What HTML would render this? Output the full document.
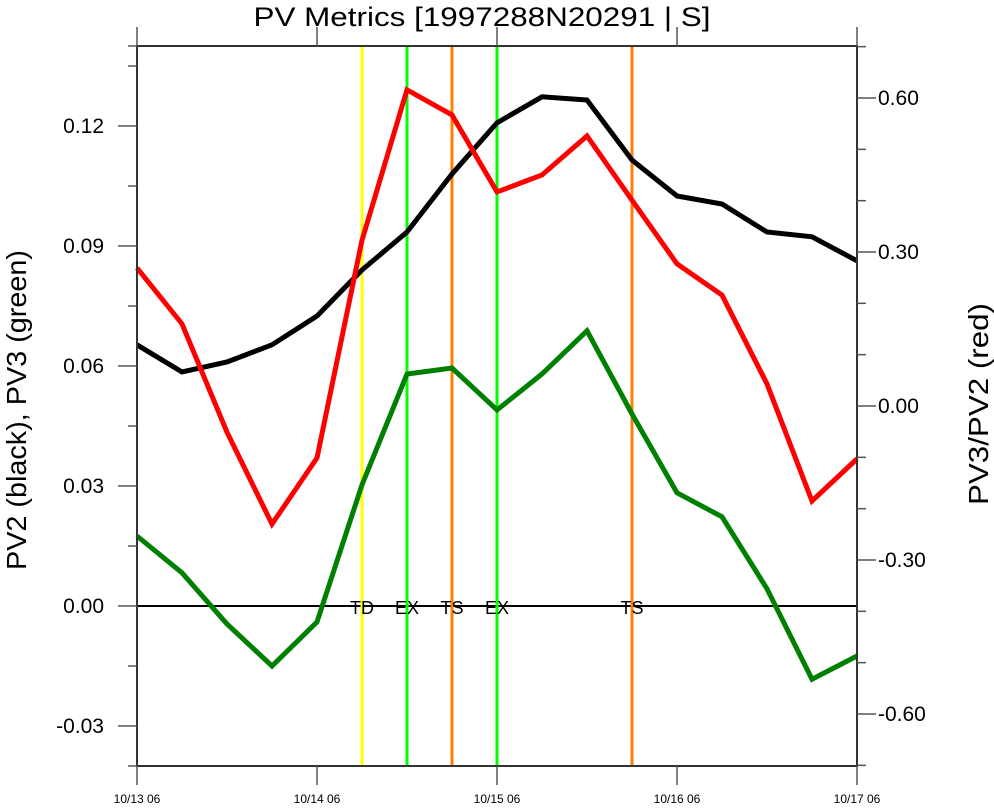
<!DOCTYPE html>
<html><head><meta charset="utf-8"><style>
body{margin:0;background:#fff}
svg text{font-family:"Liberation Sans",sans-serif}
</style></head><body>
<svg id="chart" width="994" height="805" xmlns="http://www.w3.org/2000/svg">
</svg>
<script>
const xLabels = ["10/13 06","10/14 06","10/15 06","10/16 06","10/17 06"];
const pv2 = [0.0653,0.0585,0.061,0.0653,0.0725,0.084,0.0935,0.108,0.1208,0.1273,0.1265,0.1115,0.1025,0.1005,0.0935,0.0923,0.0863];
const pv3 = [0.0175,0.0083,-0.0045,-0.015,-0.004,0.0303,0.058,0.0595,0.049,0.058,0.0688,0.048,0.0283,0.0223,0.0043,-0.0183,-0.0125];
const ratio = [0.269,0.160,-0.051,-0.230,-0.101,0.323,0.616,0.567,0.417,0.450,0.526,0.401,0.277,0.216,0.043,-0.185,-0.103];
const leftTicks = [-0.03,0.00,0.03,0.06,0.09,0.12];
const rightTicks = [-0.60,-0.30,0.00,0.30,0.60];
const events = [["TD",5,"#ffff00"],["EX",6,"#00ff00"],["TS",7,"#ff8000"],["EX",8,"#00ff00"],["TS",11,"#ff8000"]];

const X0=137,X1=857,Y0=46,Y1=766;
const xs = i => X0 + i*(X1-X0)/(pv2.length-1);
const yL = v => 606 - v*4000;
const yR = v => 406 - v*513.33;
const svg=document.getElementById('chart');
const NS="http://www.w3.org/2000/svg";
function mk(tag,attrs){const e=document.createElementNS(NS,tag);for(const k in attrs)e.setAttribute(k,attrs[k]);svg.appendChild(e);return e;}

let t=mk('text',{x:482,y:26,'text-anchor':'middle','font-size':27,textLength:457,lengthAdjust:'spacingAndGlyphs'});t.textContent="PV Metrics [1997288N20291 | S]";



let z=mk('line',{x1:X0,x2:X1,y1:yL(0),y2:yL(0),stroke:'#000','stroke-width':2});



events.forEach(ev=>{
  const x=xs(ev[1]);
  let l=mk('line',{x1:x,x2:x,y1:Y0,y2:Y1,stroke:ev[2],'stroke-width':3});
  
  
  let tx=mk('text',{x:x,y:614,'text-anchor':'middle','font-size':18});tx.textContent=ev[0];
  
  
});

function series(arr,yf,color,name){
  const p=mk('polyline',{points:arr.map((v,i)=>xs(i)+','+yf(v)).join(' '),fill:'none',stroke:color,'stroke-width':5,'stroke-linejoin':'miter'});
  
  
}
series(pv3,yL,'#008000','pv3-line');
series(pv2,yL,'#000000','pv2-line');
series(ratio,yR,'#ff0000','pv3-pv2-ratio-line');

let f=mk('rect',{x:X0,y:Y0,width:X1-X0,height:Y1-Y0,fill:'none',stroke:'#333','stroke-width':2});



for(let v=-0.03;v<=0.135;v+=0.015){
  const y=yL(v);const major=Math.abs(Math.round(v*1000/15))%2===0;
  mk('line',{x1:X0,x2:X0-(major?19:9),y1:y,y2:y,stroke:'#555','stroke-width':1.5});
}
mk('line',{x1:X0,x2:X0-9,y1:Y0,y2:Y0,stroke:'#555','stroke-width':1.5});
mk('line',{x1:X0,x2:X0-9,y1:Y1,y2:Y1,stroke:'#555','stroke-width':1.5});
leftTicks.forEach(v=>{
  let tx=mk('text',{x:104,y:yL(v)+7,'text-anchor':'end','font-size':21});tx.textContent=v.toFixed(2);
  
  
});
for(let k=-7;k<=7;k++){
  const v=k/10,y=yR(v);const major=(k%3===0);
  mk('line',{x1:X1,x2:X1+(major?19:9),y1:y,y2:y,stroke:'#555','stroke-width':1.5});
}
rightTicks.forEach(v=>{
  let tx=mk('text',{x:878,y:yR(v)+7,'font-size':21});tx.textContent=v.toFixed(2);
  
  
});
xLabels.forEach((s,i)=>{
  const x=X0+i*180;
  mk('line',{x1:x,x2:x,y1:Y1,y2:Y1+19,stroke:'#555','stroke-width':1.5});
  mk('line',{x1:x,x2:x,y1:Y0,y2:Y0-19,stroke:'#555','stroke-width':1.5});
  let tx=mk('text',{x:x,y:803,'text-anchor':'middle','font-size':12});tx.textContent=s;
  
  
});
let ly=mk('text',{x:0,y:0,transform:'translate(26,410) rotate(-90)','text-anchor':'middle','font-size':28,textLength:320,lengthAdjust:'spacingAndGlyphs'});ly.textContent="PV2 (black), PV3 (green)";


let ry=mk('text',{x:0,y:0,transform:'translate(988,404) rotate(-90)','text-anchor':'middle','font-size':28,textLength:202,lengthAdjust:'spacingAndGlyphs'});ry.textContent="PV3/PV2 (red)";


</script>
</body></html>
